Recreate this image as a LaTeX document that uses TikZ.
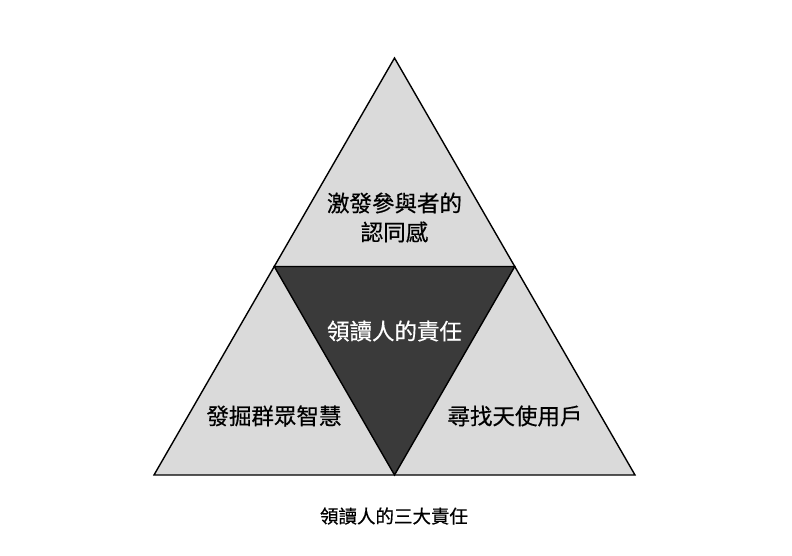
\documentclass[tikz,border=0pt]{standalone}
\usepackage{fontspec}
\newfontfamily\cjk[FakeBold=0.5]{Noto Sans CJK TC}
\usetikzlibrary{calc}
\definecolor{lightfill}{HTML}{DADADA}
\definecolor{darkfill}{HTML}{3A3A3A}
\tikzset{
  edge/.style={draw=black, line width=1.4pt, line join=miter},
  lbl/.style={font=\cjk\fontsize{22.5}{29}\selectfont, align=center, inner sep=0pt, text=black},
  lblw/.style={lbl, text=white},
  captext/.style={font=\cjk\fontsize{18.5}{22}\selectfont, inner sep=0pt, text=black}
}
\begin{document}
\begin{tikzpicture}[x=1pt,y=-1pt]
\useasboundingbox (0,0) rectangle (792,556);
\coordinate (A) at (394.5,58);
\coordinate (B) at (154,475);
\coordinate (C) at (635,475);
\coordinate (AB) at ($(A)!0.5!(B)$);
\coordinate (AC) at ($(A)!0.5!(C)$);
\coordinate (BC) at ($(B)!0.5!(C)$);
\path[edge, fill=lightfill] (A) -- (B) -- (C) -- cycle;
\path[edge, fill=darkfill] (AB) -- (AC) -- (BC) -- cycle;
\node[lbl] (top) at (394.5,217.5) {激發參與者的\\認同感};
\node[lblw] (mid) at (394.5,331) {領讀人的責任};
\node[lbl] (left) at (274,416) {發掘群眾智慧};
\node[lbl] (right) at (515,416) {尋找天使用戶};
\node[captext] (caption) at (394,516) {領讀人的三大責任};
\end{tikzpicture}
\end{document}
